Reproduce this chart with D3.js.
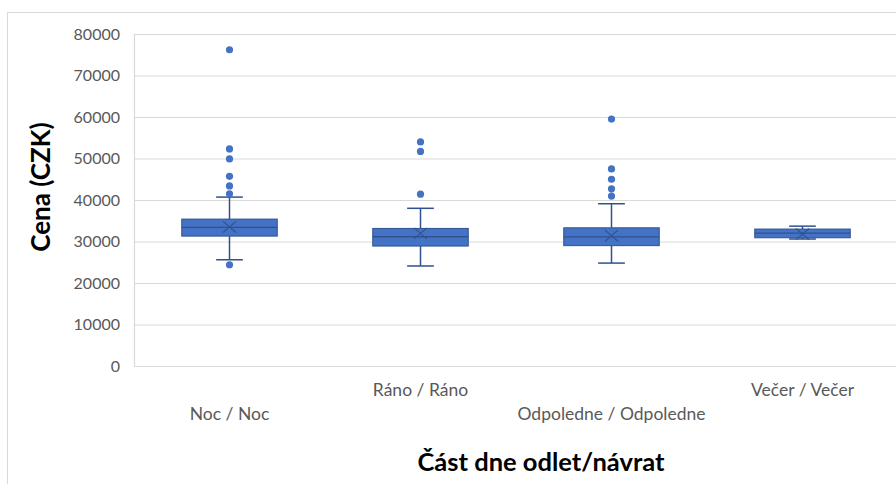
<!DOCTYPE html>
<html>
<head>
<meta charset="utf-8">
<script src="https://cdn.jsdelivr.net/npm/d3@7"></script>
<style>
  html, body { margin: 0; padding: 0; background: #fff; }
  svg { display: block; }
</style>
</head>
<body>
<svg id="chart" width="896" height="484"></svg>
<script>
// Price distribution by part of day (departure / return)
const categories = ["Noc / Noc", "Ráno / Ráno", "Odpoledne / Odpoledne", "Večer / Večer"];
const whiskerLow  = [25600, 24100, 24800, 30600];
const quartile1   = [31300, 28900, 29000, 30900];
const medians     = [33400, 31150, 31100, 32000];
const quartile3   = [35400, 33150, 33300, 33000];
const whiskerHigh = [40700, 38000, 39100, 33700];
const means       = [33500, 31950, 31400, 31800];
const outliers    = [
  [76200, 52300, 49900, 45700, 43400, 41500, 24400],
  [54000, 51700, 41400],
  [59500, 47500, 45000, 42700, 40950],
  []
];
const yTicks = [0, 10000, 20000, 30000, 40000, 50000, 60000, 70000, 80000];

const boxes = categories.map((c, i) => ({
  cat: c, lo: whiskerLow[i], q1: quartile1[i], med: medians[i],
  q3: quartile3[i], hi: whiskerHigh[i], mean: means[i], out: outliers[i]
}));

const svg = d3.select("#chart");
const W = 896, H = 484;
const m = { top: 34, right: -2, bottom: 118, left: 134 };

const x = d3.scaleBand().domain(categories).range([m.left, W - m.right]).padding(0);
const y = d3.scaleLinear().domain([0, 80000]).range([H - m.bottom, m.top]);

const fill = "#4472C4", dark = "#2F528F", grid = "#D9D9D9";
const font = "Lato, 'Liberation Sans', sans-serif";

// chart area frame
svg.append("rect").attr("x", 7.5).attr("y", 12.5).attr("width", 900).attr("height", 480)
  .attr("fill", "#fff").attr("stroke", grid).attr("stroke-width", 1);

// horizontal gridlines + value labels
const yAxis = svg.append("g").attr("transform", `translate(${m.left},0)`)
  .call(d3.axisLeft(y).tickValues(yTicks).tickSize(-(W - m.right - m.left)).tickPadding(14)
    .tickFormat(d3.format("d")));
yAxis.select(".domain").remove();
yAxis.selectAll(".tick line").attr("stroke", grid).attr("stroke-width", 1.2);
yAxis.selectAll(".tick text").attr("fill", "#595959").style("font-family", font).style("font-size", "16px");

// left vertical line
svg.append("line").attr("x1", m.left + 0.5).attr("x2", m.left + 0.5)
  .attr("y1", y(80000)).attr("y2", y(0)).attr("stroke", grid).attr("stroke-width", 1.2);

// category labels, staggered
const xAxis = svg.append("g").attr("transform", `translate(0,${y(0)})`)
  .call(d3.axisBottom(x).tickSize(0).tickPadding(0));
xAxis.select(".domain").remove();
xAxis.selectAll(".tick text")
  .attr("y", (d, i) => i % 2 === 0 ? 54 : 30)
  .attr("dy", 0)
  .attr("fill", "#595959").style("font-family", font).style("font-size", "17.5px");

// box plots
const bw = x.bandwidth() * 0.5;
const capW = x.bandwidth() * 0.14;
const g = svg.append("g").selectAll("g").data(boxes).join("g")
  .attr("transform", d => `translate(${x(d.cat) + x.bandwidth() / 2},0)`);

// whiskers
g.append("line").attr("x1", 0).attr("x2", 0).attr("y1", d => y(d.hi)).attr("y2", d => y(d.q3))
  .attr("stroke", dark).attr("stroke-width", 1.5);
g.append("line").attr("x1", 0).attr("x2", 0).attr("y1", d => y(d.q1)).attr("y2", d => y(d.lo))
  .attr("stroke", dark).attr("stroke-width", 1.5);
g.append("line").attr("x1", -capW / 2).attr("x2", capW / 2).attr("y1", d => y(d.hi)).attr("y2", d => y(d.hi))
  .attr("stroke", dark).attr("stroke-width", 1.5);
g.append("line").attr("x1", -capW / 2).attr("x2", capW / 2).attr("y1", d => y(d.lo)).attr("y2", d => y(d.lo))
  .attr("stroke", dark).attr("stroke-width", 1.5);

// box
g.append("rect").attr("x", -bw / 2).attr("width", bw)
  .attr("y", d => y(d.q3)).attr("height", d => y(d.q1) - y(d.q3))
  .attr("fill", fill).attr("stroke", dark).attr("stroke-width", 1);

// median
g.append("line").attr("x1", -bw / 2).attr("x2", bw / 2).attr("y1", d => y(d.med)).attr("y2", d => y(d.med))
  .attr("stroke", dark).attr("stroke-width", 1.3);

// mean marker
const mk = 6.5;
g.append("path")
  .attr("d", d => `M${-mk},${y(d.mean) - mk * 0.85}L${mk},${y(d.mean) + mk * 0.85}M${-mk},${y(d.mean) + mk * 0.85}L${mk},${y(d.mean) - mk * 0.85}`)
  .attr("stroke", dark).attr("stroke-width", 1.1).attr("fill", "none");

// outliers
g.selectAll("circle").data(d => d.out).join("circle")
  .attr("cx", 0).attr("cy", v => y(v)).attr("r", 3.6).attr("fill", fill);

// axis titles
svg.append("text").attr("transform", `translate(50,${(y(0) + y(80000)) / 2 - 13}) rotate(-90)`)
  .attr("text-anchor", "middle").style("font-family", font).style("font-size", "26px")
  .style("font-weight", "bold").attr("fill", "#000").text("Cena (CZK)");
svg.append("text").attr("x", 541).attr("y", 471)
  .attr("text-anchor", "middle").style("font-family", font).style("font-size", "25.5px")
  .style("font-weight", "bold").attr("fill", "#000").text("Část dne odlet/návrat");
</script>
</body>
</html>
